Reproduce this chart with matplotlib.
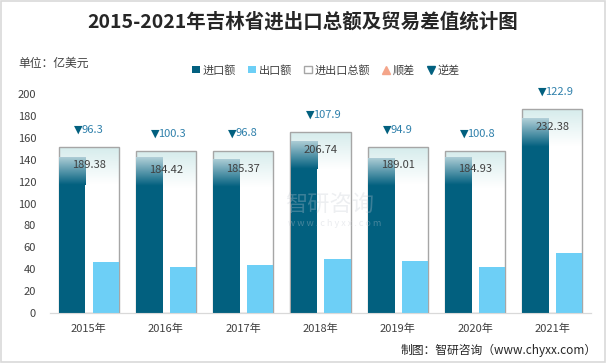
import numpy as np
import matplotlib
matplotlib.use("Agg")
import matplotlib.pyplot as plt
from matplotlib.colors import to_rgba
from matplotlib.patches import Patch, Rectangle
from matplotlib.lines import Line2D

plt.rcParams["font.family"] = ["Noto Sans CJK SC", "DejaVu Sans"]

# 数据（亿美元）
years = ["2015年", "2016年", "2017年", "2018年", "2019年", "2020年", "2021年"]
total = [189.38, 184.42, 185.37, 206.74, 189.01, 184.93, 232.38]
deficit = [96.3, 100.3, 96.8, 107.9, 94.9, 100.8, 122.9]
imports = [142.84, 142.36, 141.09, 157.32, 141.96, 142.87, 177.64]
exports = [46.54, 42.06, 44.29, 49.42, 47.06, 42.07, 54.74]

C_IMP = "#02607f"
C_EXP = "#6dcff6"
C_EDGE = "#a6a6a6"
C_UP = "#f4a58a"
C_TXT = "#404040"


def vgrad(ax, x0, x1, y0, y1, c_top, c_bot, clip):
    """Degradado vertical recortado a la barra."""
    n = 64
    top, bot = np.array(to_rgba(c_top)), np.array(to_rgba(c_bot))
    t = np.linspace(0, 1, n)[:, None]
    img = (top * (1 - t) + bot * t)[:, None, :]
    im = ax.imshow(img, extent=[x0, x1, y0, y1], aspect="auto",
                   origin="upper", zorder=clip.get_zorder() + 0.1)
    im.set_clip_path(clip)


fig = plt.figure(figsize=(6.06, 3.63), dpi=100)
ax = fig.add_axes([50 / 606, 1 - 313 / 363, 541 / 606, 219 / 363])
ax2 = ax.twinx()
ax.set_zorder(ax2.get_zorder() + 1)
ax.patch.set_visible(False)

x = np.arange(len(years))
w_tot, w_imp, w_exp = 0.78, 0.345, 0.34

# 进出口总额 (eje secundario 0-250)
bars_t = ax2.bar(x, total, width=w_tot, color="white", edgecolor="none", zorder=1)
for b in bars_t:
    x0, y1 = b.get_x(), b.get_height()
    vgrad(ax2, x0, x0 + b.get_width(), y1 - 42, y1, "#d6ecec", "#ffffff", b)
ax2.bar(x, total, width=w_tot, fill=False, edgecolor=C_EDGE, linewidth=1.0, zorder=3)

# 进口额 / 出口额
bars_i = ax.bar(x - 0.215, imports, width=w_imp, color=C_IMP, zorder=2)
for b in bars_i:
    x0, y1 = b.get_x(), b.get_height()
    vgrad(ax, x0, x0 + b.get_width(), y1 - 26, y1, "#b2d0d8", C_IMP, b)
ax.bar(x + 0.22, exports, width=w_exp, color=C_EXP, zorder=2)

# etiquetas
for i in range(len(years)):
    ax.annotate(f"{total[i]:.2f}", (x[i], total[i]), xycoords=ax2.transData,
                xytext=(0, -13), textcoords="offset points", ha="center",
                va="center", fontsize=8, color=C_TXT, zorder=6)
    ax.annotate("▼", (x[i], total[i]), xycoords=ax2.transData,
                xytext=(-4.5, 12.5), textcoords="offset points", ha="right",
                va="center", fontsize=8, color=C_IMP, family="DejaVu Sans", zorder=6)
    ax.annotate(f"{deficit[i]:.1f}", (x[i], total[i]), xycoords=ax2.transData,
                xytext=(-5.5, 12.5), textcoords="offset points", ha="left",
                va="center", fontsize=8, color="#2f80ab", zorder=6)

ax.set_xlim(-0.5, len(years) - 0.5)
ax.set_ylim(0, 200)
ax2.set_ylim(0, 250)
ax.set_yticks(range(0, 201, 20))
ax.set_xticks(x)
ax.set_xticklabels(years)
ax.tick_params(axis="both", length=0, labelsize=8, colors=C_TXT)
ax.tick_params(axis="y", pad=10)
ax.tick_params(axis="x", pad=8)
ax2.set_yticks([])
for a in (ax, ax2):
    for s in ("top", "right", "left"):
        a.spines[s].set_visible(False)
    a.spines["bottom"].set_color("#d9d9d9")

# título y textos
fig.text(303 / 606, 1 - 22 / 363, "2015-2021年吉林省进出口总额及贸易差值统计图",
         ha="center", va="center", fontsize=14, fontweight="bold", color="#262626")
fig.text(18 / 606, 1 - 63 / 363, "单位：亿美元", ha="left", va="center",
         fontsize=8.5, color=C_TXT)
fig.text(597 / 606, 1 - 350 / 363, "制图：智研咨询（www.chyxx.com）", ha="right",
         va="center", fontsize=8.5, color="#262626")

# marca de agua
fig.text(285 / 606, 1 - 205 / 363, "智研咨询", ha="left", va="center",
         fontsize=16, color="#c5cad3", alpha=0.3, zorder=10)
fig.text(288 / 606, 1 - 223 / 363, "w w w . c h y x x . c o m", ha="left",
         va="center", fontsize=6.5, color="#c5cad3", alpha=0.35, zorder=10)

handles = [
    Patch(facecolor=C_IMP, edgecolor="none"),
    Patch(facecolor=C_EXP, edgecolor="none"),
    Patch(facecolor="white", edgecolor=C_EDGE),
    Line2D([], [], ls="none", marker="^", color=C_UP, markersize=6),
    Line2D([], [], ls="none", marker="v", color=C_IMP, markersize=6),
]
labels = ["进口额", "出口额", "进出口总额", "顺差", "逆差"]
fig.legend(handles, labels, loc="center", bbox_to_anchor=(326 / 606, 1 - 70 / 363),
           ncol=5, frameon=False, fontsize=8, handlelength=0.7, handleheight=0.7,
           handletextpad=0.25, columnspacing=1.1, labelcolor=C_TXT)

fig.add_artist(Rectangle((0.001, 0.002), 0.997, 0.996, transform=fig.transFigure,
                         fill=False, edgecolor="#d9d9d9", linewidth=1.2))

fig.savefig("out.png", dpi=100)
